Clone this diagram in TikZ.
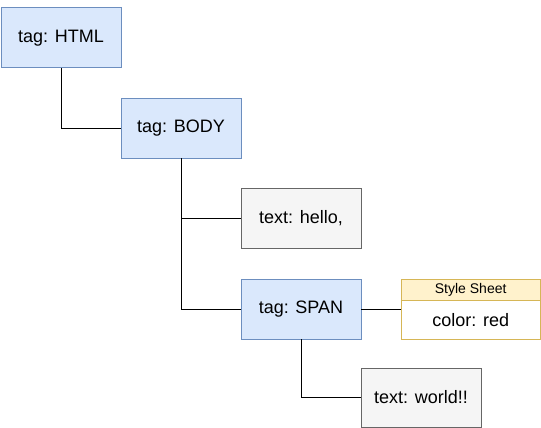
\documentclass[tikz,border=0pt]{standalone}
\usepackage{fontspec}
\setmainfont{Liberation Sans}
\definecolor{bfill}{HTML}{DAE8FC}
\definecolor{bdraw}{HTML}{6C8EBF}
\definecolor{gfill}{HTML}{F5F5F5}
\definecolor{gdraw}{HTML}{666666}
\definecolor{yfill}{HTML}{FFF2CC}
\definecolor{ydraw}{HTML}{D6B656}
\begin{document}
\begin{tikzpicture}[x=1pt,y=-1pt,
  box/.style={draw, line width=0.9pt, minimum width=120pt, minimum height=60pt, inner sep=0pt, anchor=north west, font=\fontsize{18}{21}\selectfont},
  tagbox/.style={box, fill=bfill, draw=bdraw},
  textbox/.style={box, fill=gfill, draw=gdraw},
  conn/.style={draw=black, line width=0.9pt}]
\useasboundingbox (0,0) rectangle (541,428);
\node[tagbox] (html) at (0.5,7.5) {tag: HTML};
\node[tagbox] (body) at (120.5,97.5) {tag: BODY};
\node[textbox] (hello) at (240.5,187.5) {text: hello,};
\node[tagbox] (span) at (240.5,278.5) {tag: SPAN};
\node[textbox, minimum height=59pt] (world) at (360.5,367.5) {text: world!!};
\node[draw=ydraw, fill=yfill, line width=0.9pt, minimum width=139.5pt, minimum height=21pt, inner sep=0pt, anchor=north west, font=\fontsize{14}{16}\selectfont] (sshead) at (400.5,278.5) {Style Sheet};
\node[draw=ydraw, fill=white, line width=0.9pt, minimum width=139.5pt, minimum height=39pt, inner sep=0pt, anchor=north west, font=\fontsize{18}{21}\selectfont] (ssbody) at (sshead.south west) {color: red};
\coordinate (ss) at (sshead.south west |- span.east);
\draw[conn] (html.south) |- (body.west);
\draw[conn] (body.south) |- (hello.west);
\draw[conn] (body.south) |- (span.west);
\draw[conn] (span.east) -- (ss);
\draw[conn] (span.south) |- (world.west);
\end{tikzpicture}
\end{document}
